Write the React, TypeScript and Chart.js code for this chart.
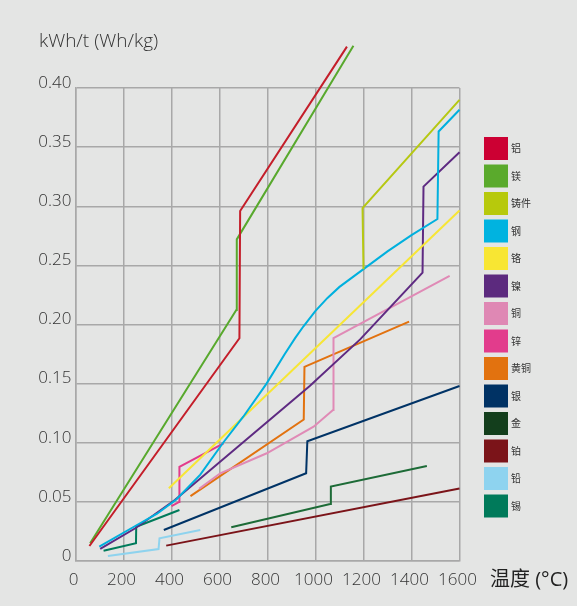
import React, { useEffect, useRef } from 'react';
import { Chart, registerables } from 'chart.js';

Chart.register(...registerables);

// ---- data (temperature °C, energy kWh/t) ----
const seriesNames = ['铝', '镁', '铸件', '钢', '铬', '镍', '铜', '锌', '黄铜', '银', '金', '铂', '铅', '锡'];

const aluminium = [[58, 0.0127], [683, 0.1884], [686, 0.296], [1131, 0.435]];
const magnesium = [[61, 0.015], [670, 0.2123], [672, 0.272], [1158, 0.4357]];
const castIron = [[1200, 0.2468], [1196, 0.2984], [1600, 0.39]];
const steel = [[99, 0.0121], [249, 0.0296], [340, 0.04], [420, 0.052], [520, 0.073], [615, 0.1], [699, 0.122], [796, 0.15], [872, 0.175], [915, 0.1885], [950, 0.1985], [1000, 0.2115], [1050, 0.2225], [1100, 0.2318], [1200, 0.2468], [1300, 0.2618], [1400, 0.2756], [1508, 0.2892], [1513, 0.3632], [1600, 0.3816]];
const chromium = [[389, 0.0615], [1600, 0.2964]];
const nickel = [[103, 0.0102], [249, 0.0277], [414, 0.0516], [976, 0.148], [1186, 0.1874], [1446, 0.2439], [1450, 0.3166], [1600, 0.3457]];
const copper = [[515, 0.061], [603, 0.0742], [797, 0.0911], [992, 0.1136], [1073, 0.1277], [1075, 0.1884], [1559, 0.2412]];
const zinc = [[400, 0.0465], [432, 0.05], [433, 0.0797], [617, 0.0995]];
const brass = [[479, 0.0549], [951, 0.1197], [954, 0.1641], [1390, 0.2025]];
const silver = [[368, 0.0262], [961, 0.0742], [966, 0.1012], [1600, 0.148]];
const gold = [[649, 0.0285], [1061, 0.0482], [1064, 0.0629], [1464, 0.0803]];
const platinum = [[378, 0.013], [1600, 0.0614]];
const lead = [[135, 0.0042], [346, 0.0101], [350, 0.0192], [520, 0.0262]];
const tin = [[117, 0.0087], [252, 0.015], [253, 0.029], [433, 0.0431]];

const seriesData = [aluminium, magnesium, castIron, steel, chromium, nickel, copper, zinc, brass, silver, gold, platinum, lead, tin];

const xTickValues = [0, 200, 400, 600, 800, 1000, 1200, 1400, 1600];
const yTickValues = [0, 0.05, 0.1, 0.15, 0.2, 0.25, 0.3, 0.35, 0.4];
const yTitle = 'kWh/t (Wh/kg)';
const xTitle = '温度 (°C)';

// ---- styles ----
const lineColors = ['#c41e2a', '#58a92d', '#b6c812', '#00b0de', '#f7e635', '#5e2a82', '#e08ab6', '#e33b8b', '#e2720f', '#003366', '#1d6b37', '#7b1419', '#8ed3ee', '#007b5b'];
const legendColors = ['#cc0033', '#5aaa2c', '#b7c90c', '#00b3e0', '#f8e633', '#5c2a7e', '#df88b4', '#e23c8c', '#e2720f', '#003264', '#133e1c', '#7b1419', '#8ed3ef', '#007a5a'];
const gridColor = '#a8a8a8';
const bgColor = '#e4e5e4';
const textColor = '#333333';

const decorPlugin = {
  id: 'decor',
  beforeDraw(chart: any) {
    const ctx = chart.ctx;
    ctx.save();
    ctx.fillStyle = bgColor;
    ctx.fillRect(0, 0, chart.width, chart.height);
    ctx.restore();
  },
  afterDraw(chart: any) {
    const ctx = chart.ctx;
    ctx.save();
    ctx.fillStyle = textColor;
    ctx.textAlign = 'left';
    ctx.textBaseline = 'middle';
    ctx.font = '300 19px "Open Sans", sans-serif';
    ctx.fillText(yTitle, 39, 42);
    ctx.fillStyle = '#222222';
    ctx.font = '20px "Open Sans", "Noto Sans CJK SC", sans-serif';
    ctx.fillText(xTitle, 490, 580);
    // legend
    for (let i = 0; i < seriesNames.length; i++) {
      const top = 137 + i * 27.5;
      ctx.fillStyle = legendColors[i];
      ctx.fillRect(484, top, 24, 23);
      ctx.fillStyle = textColor;
      ctx.font = '10px "Noto Sans CJK SC", sans-serif';
      ctx.fillText(seriesNames[i], 511, top + 11.5);
    }
    ctx.restore();
  },
};

export default function App() {
  const canvasRef = useRef<HTMLCanvasElement | null>(null);

  useEffect(() => {
    if (!canvasRef.current) return;
    const chart = new Chart(canvasRef.current, {
      type: 'line',
      data: {
        datasets: seriesData.map((arr, i) => ({
          label: seriesNames[i],
          data: arr.map(([x, y]) => ({ x, y })),
          borderColor: lineColors[i],
          backgroundColor: lineColors[i],
          borderWidth: 2,
          pointRadius: 0,
          tension: 0,
          fill: false,
          clip: false as any,
        })),
      },
      options: {
        responsive: false,
        devicePixelRatio: 1,
        animation: false,
        layout: { padding: { top: 88, right: 117.5, left: 0, bottom: 0 } },
        plugins: {
          legend: { display: false },
          tooltip: { enabled: false },
        },
        scales: {
          x: {
            type: 'linear',
            min: 0,
            max: 1600,
            afterBuildTicks: (s: any) => {
              s.ticks = xTickValues.map((v) => ({ value: v }));
            },
            afterFit: (s: any) => {
              s.height = 45;
            },
            ticks: {
              color: textColor,
              font: { family: '"Open Sans", sans-serif', size: 17, weight: '300' as any },
              padding: 9,
              labelOffset: -2,
              maxRotation: 0,
              callback: (v: any) => String(v),
            },
            grid: { color: gridColor, lineWidth: 1.5, drawTicks: false },
            border: { color: gridColor, width: 1.5 },
          },
          y: {
            type: 'linear',
            min: 0,
            max: 0.4,
            afterBuildTicks: (s: any) => {
              s.ticks = yTickValues.map((v) => ({ value: v }));
            },
            afterFit: (s: any) => {
              s.width = 75.5;
            },
            ticks: {
              color: textColor,
              font: { family: '"Open Sans", sans-serif', size: 17, weight: '300' as any },
              padding: 4,
              labelOffset: -5,
              callback: (v: any) => (Number(v) === 0 ? '0' : Number(v).toFixed(2)),
            },
            grid: { color: gridColor, lineWidth: 1.5, drawTicks: false },
            border: { color: gridColor, width: 1.5 },
          },
        },
      },
      plugins: [decorPlugin],
    });
    return () => chart.destroy();
  }, []);

  return (
    <div style={{ position: 'absolute', left: 0, top: 0, width: 577, height: 606 }}>
      <canvas ref={canvasRef} width={577} height={606} style={{ display: 'block', width: 577, height: 606 }} />
    </div>
  );
}
